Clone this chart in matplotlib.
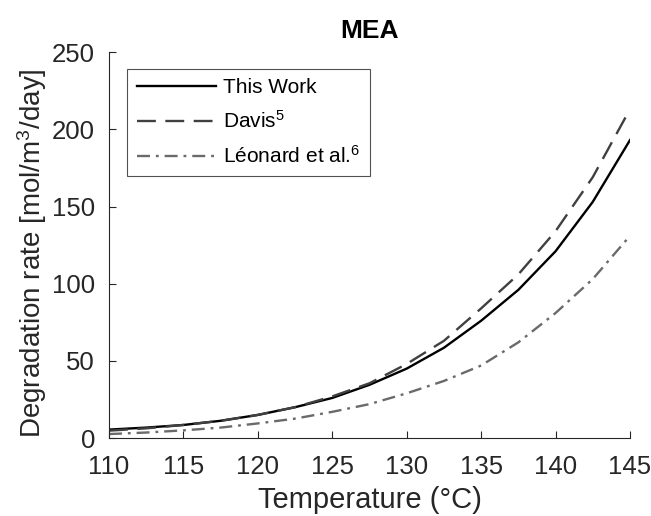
import matplotlib
matplotlib.use("Agg")
import matplotlib.pyplot as plt

plt.rcParams["font.family"] = ["Liberation Sans", "DejaVu Sans"]
plt.rcParams["mathtext.default"] = "regular"

# Degradation rate vs temperature, every 2.5 degC
temperature = [110, 112.5, 115, 117.5, 120, 122.5, 125, 127.5, 130,
               132.5, 135, 137.5, 140, 142.5, 145]
this_work = [5.5, 6.8, 8.5, 11.2, 15, 20, 26, 34.5, 45,
             58.5, 76, 96, 121, 153, 193]
davis = [4.8, 6.3, 8.5, 11.2, 15, 20, 27, 35.5, 48,
         63, 84, 106, 134, 169, 213]
leonard = [2.6, 3.6, 5, 6.8, 9.5, 12.6, 17, 22, 29,
           37, 47, 62, 81, 103, 131]

labels = ["This Work", "Davis$^{5}$", "Léonard et al.$^{6}$"]
x_ticks = [110, 115, 120, 125, 130, 135, 140, 145]
y_ticks = [0, 50, 100, 150, 200, 250]

axis_grey = "#262626"

fig = plt.figure(figsize=(6.51, 5.16), dpi=100)
ax = fig.add_axes([0.1674, 0.151, 0.8003, 0.748])

ax.plot(temperature, this_work, color="black", lw=1.7, label=labels[0])
ax.plot(temperature, davis, color="#404040", lw=1.7,
        dashes=(8, 4), label=labels[1])
ax.plot(temperature, leonard, color="#6a6a6a", lw=1.7,
        dashes=(5.5, 2.5, 1.2, 2.5), label=labels[2])

ax.set_xlim(110, 145)
ax.set_ylim(0, 250)
ax.set_xticks(x_ticks)
ax.set_yticks(y_ticks)

for side in ["top", "right"]:
    ax.spines[side].set_visible(False)
for side in ["left", "bottom"]:
    ax.spines[side].set_color(axis_grey)
    ax.spines[side].set_linewidth(0.8)
ax.tick_params(direction="in", length=5, width=0.8, colors=axis_grey,
               labelsize=18.5)
ax.tick_params(axis="x", pad=12)
ax.tick_params(axis="y", pad=10)

ax.set_xlabel("Temperature (°C)", fontsize=21, color=axis_grey, labelpad=5)
ax.set_ylabel("Degradation rate [mol/m$^{3}$/day]", fontsize=20,
              color=axis_grey)
ax.yaxis.set_label_coords(-0.115, 0.48)
ax.set_title("MEA", fontsize=19, fontweight="bold", pad=10)

leg = ax.legend(loc="upper left", bbox_to_anchor=(0.035, 0.956),
                fontsize=15, frameon=True, fancybox=False,
                borderaxespad=0, handlelength=3.8, labelspacing=0.62,
                borderpad=0.45, handletextpad=0.35)
leg.get_frame().set_edgecolor(axis_grey)
leg.get_frame().set_linewidth(0.8)

fig.savefig("out.png", dpi=100)
